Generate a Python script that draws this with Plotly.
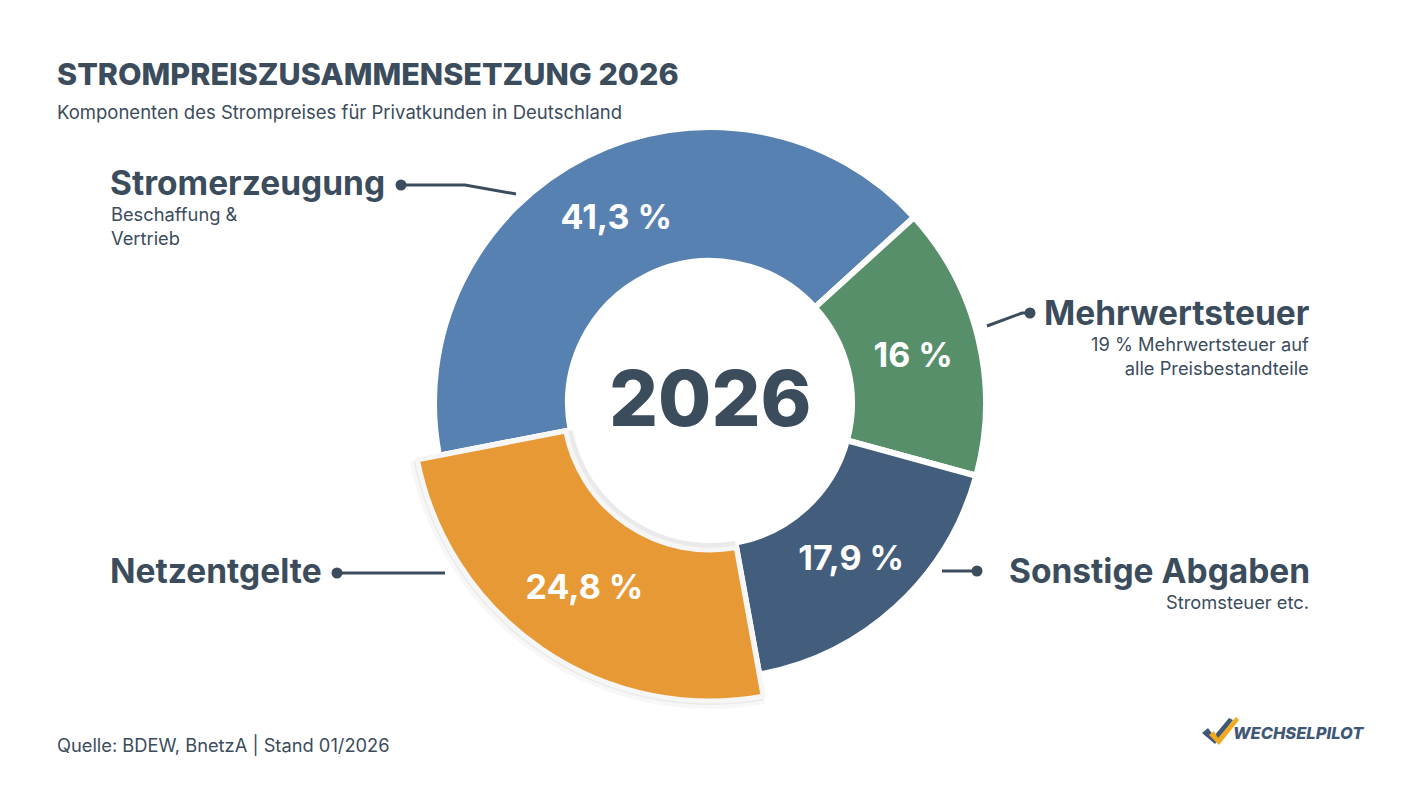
import plotly.graph_objects as go

# ---------------- data ----------------
categories = ["Stromerzeugung", "Mehrwertsteuer", "Sonstige Abgaben", "Netzentgelte"]
values = [41.3, 16.0, 17.9, 24.8]
value_labels = ["41,3 %", "16 %", "17,9 %", "24,8 %"]
subtitles = ["Beschaffung &<br>Vertrieb", "19 % Mehrwertsteuer auf<br>alle Preisbestandteile",
             "Stromsteuer etc.", ""]
colors = ["#5781b1", "#578f6b", "#435e7d", "#e79936"]
center_label = "2026"
title = "STROMPREISZUSAMMENSETZUNG 2026"
subtitle = "Komponenten des Strompreises für Privatkunden in Deutschland"
source = "Quelle: BDEW, BnetzA | Stand 01/2026"
brand = "WECHSELPILOT"

W, H = 1422, 800
DARK = "#3b4c5d"
FONT = "Inter"

CX, CY = 710, 403          # donut centre (px)
ROT = 259                  # start angle of first slice


def px(x):
    return x / W


def py(y):
    return 1 - y / H


def domain(r):
    return dict(x=[px(CX - r), px(CX + r)], y=[py(CY + r), py(CY - r)])


fig = go.Figure()

# main ring
R_MAIN = 276
fig.add_trace(go.Pie(
    labels=categories, values=values, sort=False, direction="clockwise", rotation=ROT,
    hole=142 / R_MAIN, domain=domain(R_MAIN),
    marker=dict(colors=colors, line=dict(color="white", width=6)),
    text=[value_labels[0], value_labels[1], value_labels[2], ""],
    textinfo="text", textposition="inside", insidetextorientation="horizontal",
    textfont=dict(family=FONT, size=34, color="white", weight=700),
    hoverinfo="skip", showlegend=False,
))

# soft shadow behind highlighted slice
for r_sh, alpha in [(306, 0.03), (302, 0.05)]:
    fig.add_trace(go.Pie(
        labels=categories, values=values, sort=False, direction="clockwise", rotation=ROT,
        hole=140 / r_sh, domain=domain(r_sh),
        marker=dict(colors=["rgba(0,0,0,0)"] * 3 + [f"rgba(0,0,0,{alpha})"], line=dict(width=0)),
        textinfo="none", hoverinfo="skip", showlegend=False,
    ))

# highlighted (enlarged) slice
R_HI = 298
fig.add_trace(go.Pie(
    labels=categories, values=values, sort=False, direction="clockwise", rotation=ROT,
    hole=147 / R_HI, domain=domain(R_HI),
    marker=dict(colors=["rgba(0,0,0,0)"] * 3 + [colors[3]],
                line=dict(color=["rgba(0,0,0,0)"] * 3 + ["#f6f6f6"], width=5)),
    text=["", "", "", value_labels[3]],
    textinfo="text", textposition="inside", insidetextorientation="horizontal",
    textfont=dict(family=FONT, size=34, color="white", weight=700),
    hoverinfo="skip", showlegend=False,
))

ann = []
shapes = []


def text(x, y, s, size, anchor="left", weight=400, color=DARK, italic=False):
    ann.append(dict(x=px(x), y=py(y), xref="paper", yref="paper", text=s, showarrow=False,
                    xanchor=anchor, yanchor="middle", align=anchor,
                    font=dict(family=FONT, size=size, color=color, weight=weight,
                              style="italic" if italic else "normal")))


# title & subtitle
text(55, 73, title, 30.5, weight=800)
text(55, 112, subtitle, 18.5)
text(55, 745, source, 18.3)

# centre label
text(CX, 398, center_label, 77, anchor="center", weight=800)

# category labels
text(108, 183, categories[0], 33.5, weight=700)
text(109, 226, subtitles[0], 18.3)
text(1312, 313, categories[1], 33.5, weight=700, anchor="right")
text(1311, 356, subtitles[1], 18.3, anchor="right")
text(1312, 571, categories[2], 33.5, weight=700, anchor="right")
text(1311, 602, subtitles[2], 18.3, anchor="right")
text(108, 571, categories[3], 33.5, weight=700)


def line(points):
    path = "M " + " L ".join(f"{px(x)},{py(y)}" for x, y in points)
    shapes.append(dict(type="path", path=path, xref="paper", yref="paper",
                       line=dict(color=DARK, width=3)))


def dot(x, y, r=5.5):
    shapes.append(dict(type="circle", xref="paper", yref="paper",
                       x0=px(x - r), x1=px(x + r), y0=py(y + r), y1=py(y - r),
                       fillcolor=DARK, line=dict(width=0)))


line([(401, 185), (465, 185), (516, 194)])
dot(401, 185)
line([(1030, 313), (1022, 313), (987, 326)])
dot(1030, 313)
line([(942, 571), (977, 571)])
dot(977, 571)
line([(337, 573), (445, 573)])
dot(337, 573)


# brand logo (check marks + word)
def poly(points, color):
    path = "M " + " L ".join(f"{px(x)},{py(y)}" for x, y in points) + " Z"
    shapes.append(dict(type="path", path=path, xref="paper", yref="paper",
                       fillcolor=color, line=dict(width=0)))


poly([(1202, 733), (1208, 728), (1214, 736), (1229, 718), (1233, 720), (1215, 744)], "#3f5876")
poly([(1209, 735), (1214, 731), (1218, 738), (1236, 717), (1239, 720), (1219, 745)], "#f2a922")
text(1231, 733, brand, 16.5, weight=800, color="#3f5876", italic=True)

fig.update_layout(
    width=W, height=H,
    margin=dict(l=0, r=0, t=0, b=0),
    paper_bgcolor="white", plot_bgcolor="white",
    annotations=ann, shapes=shapes,
    showlegend=False,
)

fig.write_html("out.html")
